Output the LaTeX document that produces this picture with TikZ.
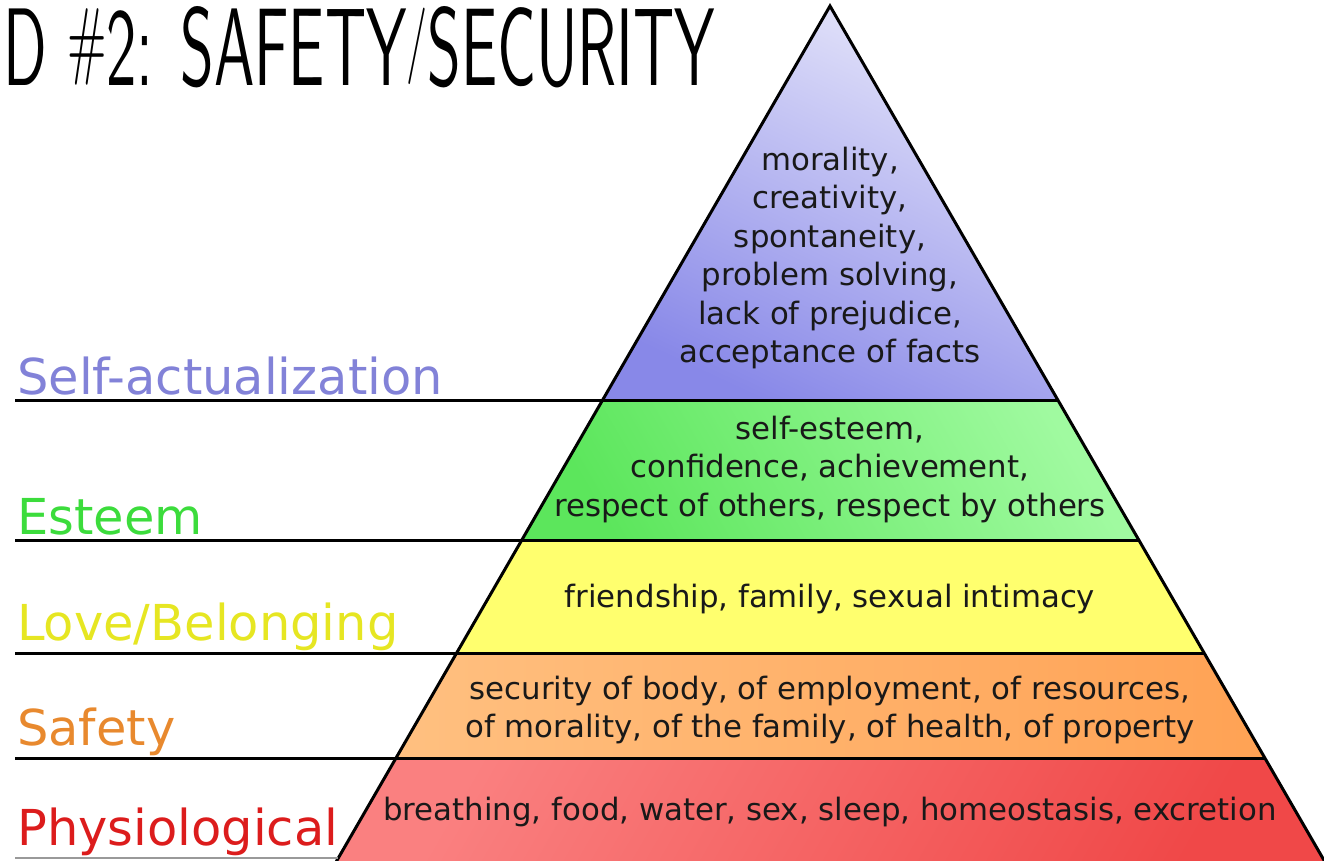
\documentclass[tikz,border=0pt]{standalone}
\usepackage{fontspec}
\setmainfont{DejaVu Sans}
\usetikzlibrary{calc}
\definecolor{labblue}{HTML}{8282D8}
\definecolor{labgreen}{HTML}{3CDC3C}
\definecolor{labyellow}{HTML}{E6E622}
\definecolor{laborange}{HTML}{E8892E}
\definecolor{labred}{HTML}{DC1C1C}
\definecolor{blueA}{RGB}{230,230,250}
\definecolor{blueB}{RGB}{136,136,232}
\definecolor{greenA}{RGB}{160,250,160}
\definecolor{greenB}{RGB}{92,230,92}
\definecolor{yellowF}{RGB}{255,255,110}
\definecolor{orangeA}{RGB}{255,192,128}
\definecolor{orangeB}{RGB}{255,162,84}
\definecolor{redA}{RGB}{250,128,128}
\definecolor{redB}{RGB}{240,72,72}
\newcommand{\capfit}[1]{\resizebox{!}{\fontcharht\font`S}{\raisebox{\depth}{#1}}}
\begin{document}
\begin{tikzpicture}[x=1pt,y=-1pt,
  band/.style={draw=black,line width=3pt,line join=miter},
  bandtext/.style={font=\fontsize{30.8}{38.5}\selectfont,align=center,text=black!90,inner sep=0pt},
  levellabel/.style={font=\fontsize{49.5}{49.5}\selectfont,anchor=base west,inner sep=0pt},
  rule/.style={line width=3pt,black}]
\useasboundingbox (0,0) rectangle (1324,860);
% pyramid corner coordinates
\coordinate (apex) at (830,6);
\coordinate (L1) at (602.1,400); \coordinate (R1) at (1057.9,400);
\coordinate (L2) at (521.1,540); \coordinate (R2) at (1138.9,540);
\coordinate (L3) at (455.7,653); \coordinate (R3) at (1204.3,653);
\coordinate (L4) at (395,758);   \coordinate (R4) at (1265,758);
\coordinate (L5) at (336,862);   \coordinate (R5) at (1325,862);
% rule starts
\coordinate (S1) at (15,400);
\coordinate (S2) at (15,540);
\coordinate (S3) at (15,653);
\coordinate (S4) at (15,758);
\coordinate (S5) at (15,858);
\coordinate (B5) at (338,858);
% bands
\shade[shading=axis,top color=blueA,bottom color=blueB,shading angle=-25]
  (apex) -- (R1) -- (L1) -- cycle;
\shade[shading=axis,top color=greenA,bottom color=greenB,shading angle=-60]
  (L1) -- (R1) -- (R2) -- (L2) -- cycle;
\fill[yellowF] (L2) -- (R2) -- (R3) -- (L3) -- cycle;
\shade[shading=axis,left color=orangeA,right color=orangeB]
  (L3) -- (R3) -- (R4) -- (L4) -- cycle;
\shade[shading=axis,top color=redA,bottom color=redB,shading angle=60]
  (L4) -- (R4) -- (R5) -- (L5) -- cycle;
% outline
\draw[band] (L5) -- (apex) -- (R5);
\draw[rule] (S1) -- (R1);
\draw[rule] (S2) -- (R2);
\draw[rule] (S3) -- (R3);
\draw[rule] (S4) -- (R4);
\draw[line width=2pt,black!40] (S5) -- (B5);
% band texts
\node[bandtext] (t1) at (830,258) {morality,\\creativity,\\spontaneity,\\problem solving,\\lack of prejudice,\\acceptance of facts};
\node[bandtext] (t2) at (830,469) {self-esteem,\\confidence, achievement,\\respect of others, respect by others};
\node[bandtext] (t3) at (830,599) {friendship, family, sexual intimacy};
\node[bandtext] (t4) at (830,710) {security of body, of employment, of resources,\\of morality, of the family, of health, of property};
\node[bandtext] (t5) at (830,812) {breathing, food, water, sex, sleep, homeostasis, excretion};
% level labels
\node[levellabel,text=labblue] (l1) at (17,394) {Self-actualization};
\node[levellabel,text=labgreen] (l2) at (17,534) {Esteem};
\node[levellabel,text=labyellow] (l3) at (17,640) {Love/Belonging};
\node[levellabel,text=laborange] (l4) at (17,745) {Safety};
\node[levellabel,text=labred] (l5) at (17,845) {Physiological};
% title
\node[anchor=base west,inner sep=0pt] (title) at (3,85) {\resizebox{712pt}{79pt}{\sffamily D \capfit{\#}2: SAFETY\capfit{/}SECURITY}};
\end{tikzpicture}
\end{document}
